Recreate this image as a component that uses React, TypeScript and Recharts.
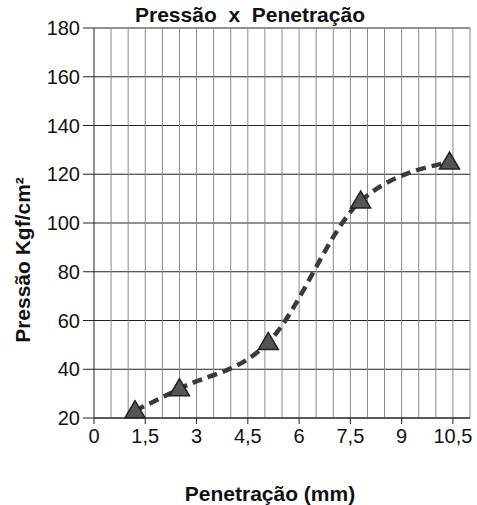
import { LineChart, Line, XAxis, YAxis, CartesianGrid, ReferenceLine } from "recharts"

// leitura aproximada do gráfico escaneado
const penetracao = [1.2, 2.5, 5.1, 7.8, 10.4]
const pressao = [23, 32, 51, 109, 125]

const xTicks = [0, 1.5, 3, 4.5, 6, 7.5, 9, 10.5]
const yTicks = [20, 40, 60, 80, 100, 120, 140, 160, 180]
const minorX = [0.5, 1, 1.5, 2, 2.5, 3, 3.5, 4, 4.5, 5, 5.5, 6, 6.5, 7, 7.5, 8, 8.5, 9, 9.5, 10, 10.5, 11]

const data = penetracao.map((x, i) => ({ x, y: pressao[i] }))

const font = "'Liberation Sans', Arial, sans-serif"

const Triangle = (props: any) => {
  const { cx, cy } = props
  if (cx == null || cy == null) return null
  return (
    <polygon
      points={`${cx},${cy - 10} ${cx - 10},${cy + 7} ${cx + 10},${cy + 7}`}
      fill="#555"
      stroke="#222"
      strokeWidth={1.5}
    />
  )
}

// rótulo do eixo Y, um pouco abaixo do centro como no original
const YLabel = (props: any) => {
  const vb = props.viewBox || {}
  const x = 22
  const y = (vb.y ?? 28) + (vb.height ?? 390) / 2 + 37
  return (
    <text
      x={x}
      y={y}
      transform={`rotate(-90, ${x}, ${y})`}
      textAnchor="middle"
      dominantBaseline="central"
      fill="#111"
      fontSize={21}
      fontWeight="bold"
      fontFamily={font}
    >
      Pressão Kgf/cm²
    </text>
  )
}

export default function App() {
  return (
    <div style={{ position: "absolute", left: 0, top: 0, width: 477, height: 505, background: "#fff", fontFamily: font }}>
      <div
        style={{
          position: "absolute",
          left: 0,
          width: 500,
          top: 3,
          textAlign: "center",
          fontWeight: "bold",
          fontSize: 21,
          color: "#111",
        }}
      >
        Pressão&nbsp; x&nbsp; Penetração
      </div>
      <LineChart width={477} height={505} data={data} margin={{ top: 28, right: 7, left: 0, bottom: 0 }}>
        <CartesianGrid vertical={false} stroke="#222" strokeWidth={1} />
        {minorX.map((v) => (
          <ReferenceLine key={v} x={v} stroke="#888" strokeWidth={1} />
        ))}
        <XAxis
          dataKey="x"
          type="number"
          domain={[0, 11]}
          ticks={xTicks}
          tickFormatter={(v) => String(v).replace(".", ",")}
          height={87}
          stroke="#222"
          tickSize={6}
          tickMargin={5}
          tick={{ fill: "#111", fontSize: 20, fontFamily: font }}
          label={{
            value: "Penetração (mm)",
            position: "insideBottom",
            offset: 4,
            dx: -12,
            style: { fill: "#111", fontSize: 21, fontWeight: "bold", fontFamily: font },
          }}
        />
        <YAxis
          type="number"
          domain={[20, 180]}
          ticks={yTicks}
          width={94}
          stroke="#222"
          tickSize={11}
          tickMargin={3}
          tick={{ fill: "#111", fontSize: 20, fontFamily: font }}
          label={{ content: <YLabel /> } as any}
        />
        <Line
          type="monotone"
          dataKey="y"
          stroke="#3a3a3a"
          strokeWidth={4.5}
          strokeDasharray="10 6"
          dot={<Triangle />}
          activeDot={false}
          isAnimationActive={false}
        />
      </LineChart>
    </div>
  )
}
